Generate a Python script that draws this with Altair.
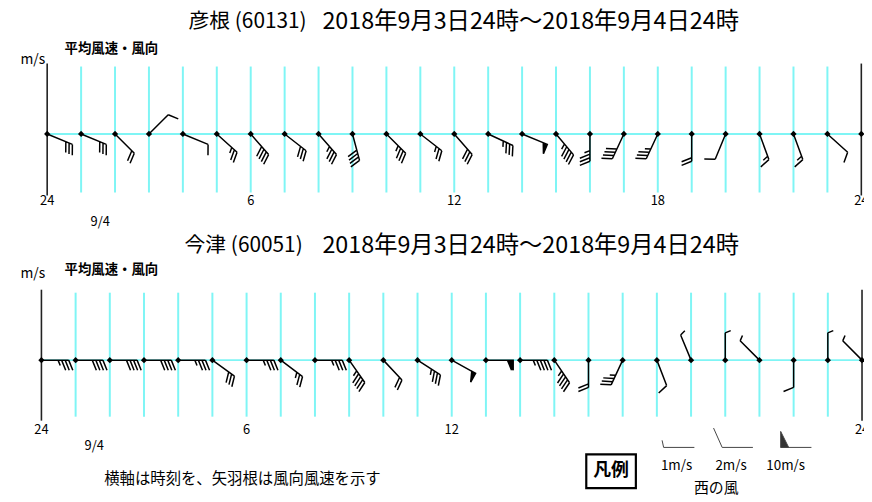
import altair as alt
import pandas as pd

# ---------------- data ----------------
HOURS = list(range(25))

# 彦根 (60131): wind direction (deg, where the wind comes from) and mean speed (m/s)
HIKONE_DIR = [112.5, 112.5, 135, 45, 112.5, 132, 139, 128, 139, 165, 135, 128,
              139, 115, 112.5, 140, 180, 205, 205, 180, 202.5, 160, 160, 132, 0]
HIKONE_SPD = [6, 6, 4, 2, 2, 5, 8, 6, 7, 8, 7, 5,
              6, 7, 10, 9, 7, 8, 7, 4, 2, 3, 3, 2, 0]

# 今津 (60051)
IMAZU_DIR = [90, 90, 90, 90, 90, 126, 90, 127, 90, 145, 137, 123,
             119, 90, 90, 146, 180, 205, 159, 337.5, 0, 315, 180, 0, 315]
IMAZU_SPD = [7, 8, 8, 8, 7, 6, 7, 5, 7, 9, 4, 7,
             10, 12, 9, 9, 4, 7, 2, 1, 1, 1, 2, 1, 1]

TICK_HOURS = [0, 6, 12, 18, 24]
TICK_LABELS = ["24", "6", "12", "18", "24"]
TICK_HOURS_B = [0, 6, 12, 24]
TICK_LABELS_B = ["24", "6", "12", "24"]

TITLE_NAMES = ["彦根 (60131)", "今津 (60051)"]
TITLE_PERIOD = "2018年9月3日24時～2018年9月4日24時"
SUBTITLE = "平均風速・風向"
UNIT = "m/s"
DATE_LABEL = "9/4"
FOOTER = "横軸は時刻を、矢羽根は風向風速を示す"

LEGEND_SPEEDS = [1, 2, 10]
LEGEND_LABELS = ["1m/s", "2m/s", "10m/s"]
LEGEND_TITLE = "凡例"
LEGEND_NOTE = "西の風"
LEGEND_DIR = 270

# ---------------- style ----------------
FONT = "Noto Sans CJK JP"
CYAN = "#7ff5f5"
M = 8  # page margin
W, H = 863, 492


def p(v):
    return v - M


def barb_path(speed, blen, slant, sblen, sslant, gap, pen_h, pen_b):
    """Wind barb glyph in unit coordinates: station at (0,0), shaft to (0,-1)."""
    parts = ["M0,0L0,-1"]
    n10, rem = divmod(int(speed), 10)
    n2, n1 = divmod(rem, 2)
    pos = 1.0
    for _ in range(n10):
        parts.append(f"M0,{-pos:.3f}L{pen_h:.3f},{-pos:.3f}L0,{-(pos - pen_b):.3f}Z")
        pos -= pen_b + 0.05
    for _ in range(n2):
        parts.append(f"M0,{-pos:.3f}L{blen:.3f},{-(pos + slant):.3f}")
        pos -= gap
    for _ in range(n1):
        parts.append(f"M0,{-pos:.3f}L{sblen:.3f},{-(pos + sslant):.3f}")
        pos -= gap
    return "".join(parts)


L_CHART = 27.5
CHART_GLYPH = dict(blen=0.37, slant=0.15, sblen=0.2, sslant=0.08, gap=0.13, pen_h=0.37, pen_b=0.16)
L_LEG = 31.0
LEG_GLYPH = dict(blen=0.63, slant=0.28, sblen=0.23, sslant=0.05, gap=0.15, pen_h=0.52, pen_b=0.26)


def txt(text, x, y, size, align="center", weight="normal", baseline="middle"):
    return alt.Chart(pd.DataFrame({"t": [text]})).mark_text(
        font=FONT, fontSize=size, align=align, baseline=baseline, fontWeight=weight, color="black"
    ).encode(x=alt.value(p(x)), y=alt.value(p(y)), text="t:N")


def panel(spd, dirs, x0, x1, base_y, ax_top, ax_bot, g_top, g_bot, tick_y, tick_h, tick_l,
          date_x, date_y, name, name_x, title_y, unit_y, sub_y):
    xs = alt.Scale(domain=[0, 24], range=[p(x0), p(x1)])
    X = alt.X("h:Q", scale=xs, axis=None)
    df = pd.DataFrame({"h": HOURS, "spd": spd, "dir": dirs})
    df["path"] = [barb_path(s, **CHART_GLYPH) for s in spd]
    layers = []
    layers.append(alt.Chart(pd.DataFrame({"h": HOURS[1:-1]})).mark_rule(color=CYAN, strokeWidth=2).encode(
        x=X, y=alt.value(p(g_top)), y2=alt.value(p(g_bot))))
    layers.append(alt.Chart(pd.DataFrame({"h": [0], "h2": [24]})).mark_rule(color=CYAN, strokeWidth=2).encode(
        x=X, x2="h2:Q", y=alt.value(p(base_y))))
    layers.append(alt.Chart(pd.DataFrame({"h": [0, 24]})).mark_rule(color="#222", strokeWidth=1.6).encode(
        x=X, y=alt.value(p(ax_top)), y2=alt.value(p(ax_bot))))
    layers.append(alt.Chart(df[df.spd > 0]).mark_point(
        filled=True, fill="black", stroke="black", strokeWidth=1.5, opacity=1, size=(2 * L_CHART) ** 2
    ).encode(x=X, y=alt.value(p(base_y)), shape=alt.Shape("path:N", scale=None),
             angle=alt.Angle("dir:Q", scale=None)))
    layers.append(alt.Chart(df).mark_point(shape="diamond", filled=True, color="black", size=40, opacity=1).encode(
        x=X, y=alt.value(p(base_y))))
    layers.append(alt.Chart(pd.DataFrame({"h": tick_h, "l": tick_l})).mark_text(
        font=FONT, fontSize=13, baseline="middle", color="black").encode(
        x=X, y=alt.value(p(tick_y)), text="l:N"))
    layers.append(txt(DATE_LABEL, date_x, date_y, 13))
    layers.append(txt(name, name_x, title_y, 21, align="left"))
    layers.append(txt(TITLE_PERIOD, 325, title_y, 23.5, align="left"))
    layers.append(txt(UNIT, 33, unit_y, 14))
    layers.append(txt(SUBTITLE, 65, sub_y, 13.5, align="left", weight="bold"))
    return layers


top = panel(HIKONE_SPD, HIKONE_DIR, 47.5, 868.3, 133, 62, 195, 65, 192, 201, TICK_HOURS, TICK_LABELS,
            101, 222, TITLE_NAMES[0], 190, 20, 58, 47)
bot = panel(IMAZU_SPD, IMAZU_DIR, 41.7, 869.0, 361, 290, 422, 293, 418, 431, TICK_HOURS_B, TICK_LABELS_B,
            95, 448, TITLE_NAMES[1], 186, 246, 274, 270)

# ---------------- footer & legend ----------------
leg_df = pd.DataFrame({"lab": LEGEND_LABELS, "spd": LEGEND_SPEEDS, "dir": [LEGEND_DIR] * 3})
leg_df["path"] = [barb_path(s, **LEG_GLYPH) for s in LEGEND_SPEEDS]
legend = [
    alt.Chart(pd.DataFrame({"a": [0]})).mark_rect(fill="white", stroke="black", strokeWidth=2.2).encode(
        x=alt.value(p(591)), x2=alt.value(p(641)), y=alt.value(p(456)), y2=alt.value(p(490))),
    txt(LEGEND_TITLE, 616, 473, 18, weight="bold"),
    alt.Chart(leg_df).mark_point(filled=True, fill="#333", stroke="#444", strokeWidth=1, opacity=1,
                                 size=(2 * L_LEG) ** 2).encode(
        x=alt.X("lab:N", scale=alt.Scale(domain=LEGEND_LABELS, range=[p(700), p(818)], padding=0), axis=None),
        y=alt.value(p(449)), shape=alt.Shape("path:N", scale=None), angle=alt.Angle("dir:Q", scale=None)),
    alt.Chart(leg_df).mark_text(font=FONT, fontSize=13.5, baseline="middle", color="black").encode(
        x=alt.X("lab:N", scale=alt.Scale(domain=LEGEND_LABELS, range=[p(682), p(792)], padding=0), axis=None),
        y=alt.value(p(468)), text="lab:N"),
    txt(LEGEND_NOTE, 722, 490, 15),
    txt(FOOTER, 105, 481, 15.5, align="left"),
]

chart = alt.layer(*top, *bot, *legend).resolve_scale(x="independent").properties(
    width=W, height=H, autosize=alt.AutoSizeParams(type="none"), padding=0, background="white"
).configure_view(stroke=None)

chart.save("out.html", embed_options={"renderer": "svg", "actions": False})
